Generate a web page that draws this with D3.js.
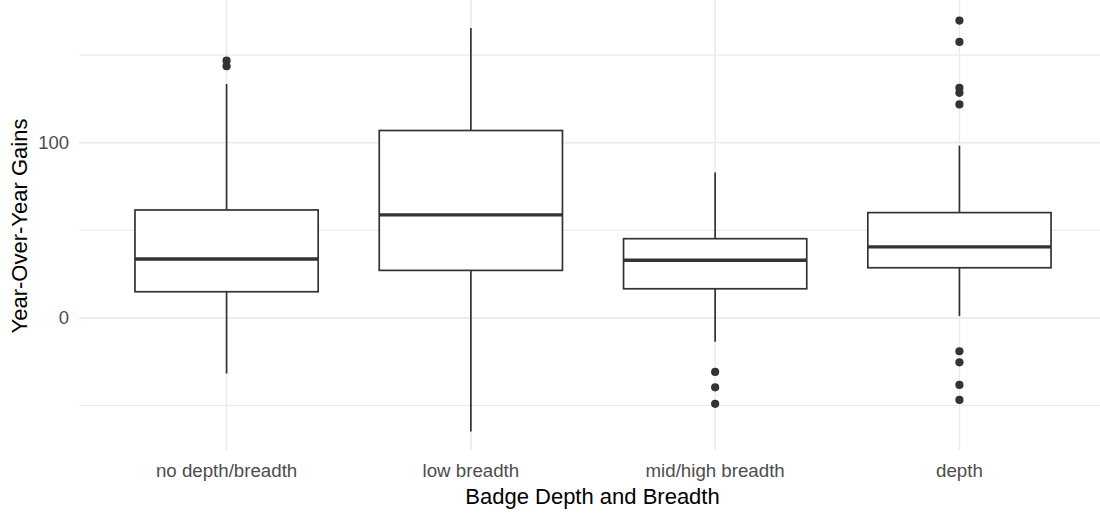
<!DOCTYPE html>
<html>
<head>
<meta charset="utf-8">
<script src="https://cdn.jsdelivr.net/npm/d3@7"></script>
<style>
  html, body { margin: 0; padding: 0; background: #ffffff; }
  svg { display: block; font-family: "Liberation Sans", Arial, sans-serif; }
</style>
</head>
<body>
<svg id="chart" width="1100" height="519"></svg>
<script>
// ---- data ----
const categories = ["no depth/breadth", "low breadth", "mid/high breadth", "depth"];
const lowerWhisker = [-31.8, -64.9, -13.6, 1.0];
const q1 = [14.9, 27.1, 16.6, 28.6];
const medians = [33.6, 58.8, 32.9, 40.5];
const q3 = [61.6, 107.0, 45.2, 60.1];
const upperWhisker = [133.6, 165.6, 83.0, 98.3];
const outliers = [
  [146.9, 143.7],
  [],
  [-30.9, -39.7, -49.1],
  [169.8, 157.6, 131.3, 128.5, 121.9, -19.1, -25.4, -38.3, -46.9]
];
const yMajorTicks = [0, 100];
const yMinorTicks = [-50, 50, 150];
const xTitle = "Badge Depth and Breadth";
const yTitle = "Year-Over-Year Gains";

// ---- layout ----
const svg = d3.select("#chart");
const panel = { left: 79, right: 1106, top: 0, bottom: 452 };

const allVals = lowerWhisker.concat(upperWhisker, outliers.flat());
const ext = d3.extent(allVals);
const pad = (ext[1] - ext[0]) * 0.05;

const y = d3.scaleLinear()
  .domain([ext[0] - pad, ext[1] + pad])
  .range([panel.bottom, panel.top]);

const x = d3.scalePoint()
  .domain(categories)
  .range([panel.left + 1, panel.right])
  .padding(0.6);

const boxW = x.step() * 0.75;

const g = svg.append("g");

// grid
g.selectAll(".gminor").data(yMinorTicks).join("line")
  .attr("x1", panel.left).attr("x2", 1100)
  .attr("y1", d => y(d)).attr("y2", d => y(d))
  .attr("stroke", "#EBEBEB").attr("stroke-width", 1.3);
g.selectAll(".gmajor").data(yMajorTicks).join("line")
  .attr("x1", panel.left).attr("x2", 1100)
  .attr("y1", d => y(d)).attr("y2", d => y(d))
  .attr("stroke", "#EBEBEB").attr("stroke-width", 1.6);
g.selectAll(".gx").data(categories).join("line")
  .attr("x1", d => x(d)).attr("x2", d => x(d))
  .attr("y1", panel.top).attr("y2", panel.bottom - 2)
  .attr("stroke", "#EBEBEB").attr("stroke-width", 1.6);

const col = "#333333";
const boxes = g.selectAll(".box").data(categories.map((c, i) => ({
  c, lo: lowerWhisker[i], q1: q1[i], med: medians[i], q3: q3[i], hi: upperWhisker[i], out: outliers[i]
}))).join("g");

// whiskers
boxes.append("line")
  .attr("x1", d => x(d.c)).attr("x2", d => x(d.c))
  .attr("y1", d => y(d.q3)).attr("y2", d => y(d.hi))
  .attr("stroke", col).attr("stroke-width", 1.7);
boxes.append("line")
  .attr("x1", d => x(d.c)).attr("x2", d => x(d.c))
  .attr("y1", d => y(d.q1)).attr("y2", d => y(d.lo))
  .attr("stroke", col).attr("stroke-width", 1.7);
// box
boxes.append("rect")
  .attr("x", d => x(d.c) - boxW / 2)
  .attr("width", boxW)
  .attr("y", d => y(d.q3))
  .attr("height", d => y(d.q1) - y(d.q3))
  .attr("fill", "#ffffff").attr("stroke", col).attr("stroke-width", 1.7);
// median
boxes.append("line")
  .attr("x1", d => x(d.c) - boxW / 2).attr("x2", d => x(d.c) + boxW / 2)
  .attr("y1", d => y(d.med)).attr("y2", d => y(d.med))
  .attr("stroke", col).attr("stroke-width", 3.4);
// outliers
boxes.each(function(d) {
  d3.select(this).selectAll("circle").data(d.out).join("circle")
    .attr("cx", x(d.c)).attr("cy", v => y(v)).attr("r", 4.1)
    .attr("fill", col);
});

// axes text
svg.append("g").selectAll("text").data(yMajorTicks).join("text")
  .attr("x", 69).attr("y", d => y(d))
  .attr("dy", "0.35em")
  .attr("text-anchor", "end")
  .attr("font-size", 18.5)
  .attr("fill", "#4D4D4D")
  .text(d => d);

svg.append("g").selectAll("text").data(categories).join("text")
  .attr("x", d => x(d)).attr("y", 477)
  .attr("text-anchor", "middle")
  .attr("font-size", 18.7)
  .attr("fill", "#4D4D4D")
  .text(d => d);

svg.append("text")
  .attr("x", (panel.left + panel.right) / 2).attr("y", 504)
  .attr("text-anchor", "middle")
  .attr("font-size", 22)
  .attr("fill", "#000000")
  .text(xTitle);

svg.append("text")
  .attr("transform", `translate(27, ${(panel.top + panel.bottom) / 2}) rotate(-90)`)
  .attr("text-anchor", "middle")
  .attr("font-size", 22)
  .attr("fill", "#000000")
  .text(yTitle);
</script>
</body>
</html>
